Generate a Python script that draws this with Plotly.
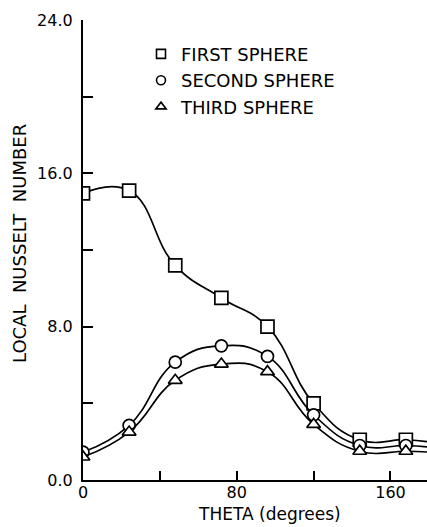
import plotly.graph_objects as go

# ---- data ----
theta = [0, 24, 48, 72, 96, 120, 144, 168]
first_sphere = [14.95, 15.1, 11.2, 9.5, 8.0, 4.0, 2.1, 2.1]
second_sphere = [1.45, 2.85, 6.15, 7.0, 6.45, 3.4, 1.8, 1.8]
third_sphere = [1.2, 2.5, 5.2, 6.05, 5.65, 2.9, 1.5, 1.5]
# curve values where the smooth lines leave the right edge of the frame
edge_theta = 179
edge_first, edge_second, edge_third = 2.0, 1.73, 1.46

series_names = ["FIRST SPHERE", "SECOND SPHERE", "THIRD SPHERE"]
x_tickvals = [0, 40, 80, 120, 160]
x_ticktext = ["0", "", "80", "", "160"]
y_tickvals = [0, 4, 8, 12, 16, 20, 24]
y_ticktext = ["0.0", "", "8.0", "", "16.0", "", "24.0"]

FONT = "DejaVu Sans"
symbols = ["square-open", "circle-open", "triangle-up-open"]
sizes = [13, 12, 12]
ys = [first_sphere, second_sphere, third_sphere]
edges = [edge_first, edge_second, edge_third]

fig = go.Figure()
for name, y, e, sym, sz in zip(series_names, ys, edges, symbols, sizes):
    fig.add_trace(go.Scatter(
        x=theta + [edge_theta], y=y + [e], mode="lines",
        line=dict(color="black", width=1.7, shape="spline", smoothing=1.3),
        showlegend=False, hoverinfo="skip"))
    fig.add_trace(go.Scatter(
        x=theta, y=y, mode="markers", showlegend=False,
        marker=dict(symbol=sym.replace("-open", ""), size=sz, color="white",
                    line=dict(color="black", width=1.7))))
    fig.add_trace(go.Scatter(
        x=[None], y=[None], mode="markers", name=name,
        marker=dict(symbol=sym, size=9, color="black",
                    line=dict(color="black", width=1.6))))

fig.update_layout(
    width=427, height=527,
    margin=dict(l=83, r=0, t=20, b=47),
    paper_bgcolor="white", plot_bgcolor="white",
    font=dict(family=FONT, size=15, color="black"),
    showlegend=True,
    legend=dict(x=(141 - 83) / 344, y=0.966, xanchor="left", yanchor="top",
                bgcolor="rgba(0,0,0,0)", font=dict(size=18, family=FONT),
                tracegroupgap=0, itemwidth=30),
    xaxis=dict(range=[0, edge_theta], tickvals=x_tickvals, ticktext=x_ticktext,
               ticks="inside", ticklen=9, tickwidth=1.5, tickcolor="black",
               showline=True, linecolor="black", linewidth=2.2, showgrid=False,
               zeroline=False, tickfont=dict(size=16, family=FONT),
               ticklabelstandoff=-3),
    yaxis=dict(range=[0, 24], tickvals=y_tickvals, ticktext=y_ticktext,
               ticks="inside", ticklen=10, tickwidth=1.5, tickcolor="black",
               showline=True, linecolor="black", linewidth=2.2, showgrid=False,
               zeroline=False, tickfont=dict(size=16, family=FONT),
               ticklabelstandoff=5),
    annotations=[
        dict(text="THETA (degrees)", xref="paper", yref="paper",
             x=(269 - 83) / 344, y=-34 / 460, xanchor="center", yanchor="middle",
             showarrow=False, font=dict(size=17, family=FONT)),
        dict(text="LOCAL  NUSSELT  NUMBER", xref="paper", yref="paper",
             x=-63 / 344, y=(480 - 244) / 460, xanchor="center", yanchor="middle",
             textangle=-90, showarrow=False, font=dict(size=18, family=FONT)),
    ],
)

fig.write_html("out.html")
